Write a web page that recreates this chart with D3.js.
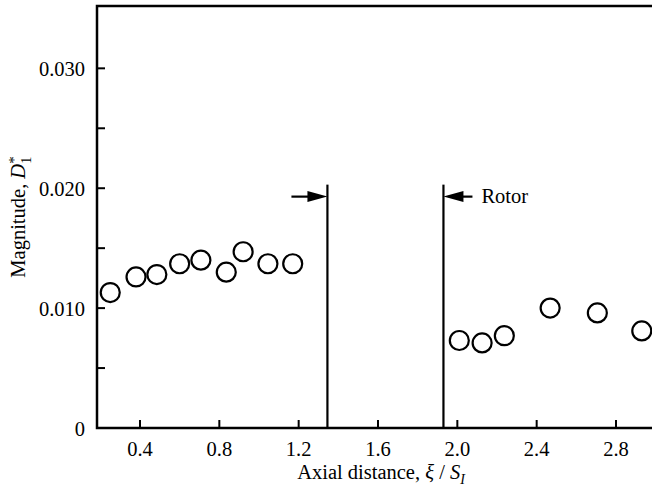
<!DOCTYPE html>
<html>
<head>
<meta charset="utf-8">
<script src="https://cdn.jsdelivr.net/npm/d3@7"></script>
<style>
  body { margin: 0; background: #fff; }
  text { font-family: "Liberation Serif", "Times New Roman", serif; fill: #000; }
</style>
</head>
<body>
<div id="viz"></div>
<script>
// data
var xUpstream = [0.25, 0.38, 0.485, 0.60, 0.707, 0.835, 0.92, 1.045, 1.17];
var yUpstream = [0.0113, 0.0126, 0.0128, 0.0137, 0.0140, 0.0130, 0.0147, 0.0137, 0.0137];
var xDownstream = [2.01, 2.125, 2.237, 2.468, 2.706, 2.93];
var yDownstream = [0.0073, 0.0071, 0.0077, 0.0100, 0.0096, 0.0081];
var rotorEdges = [1.345, 1.93];
var rotorTop = 0.0203;
var arrowLevel = 0.0193;
var xTicks = [0.4, 0.8, 1.2, 1.6, 2.0, 2.4, 2.8];
var yTicks = [0, 0.005, 0.010, 0.015, 0.020, 0.025, 0.030];
var yTickLabels = ["0", "", "0.010", "", "0.020", "", "0.030"];

var width = 652, height = 495;
var margin = {top: 6, right: 0, bottom: 67, left: 97};
var fs = 20.5;

var x = d3.scaleLinear()
  .domain([0.4, 2.8])
  .range([140, 616]);
var x0 = x.invert(margin.left), x1 = x.invert(width + 10);
x.domain([x0, x1]).range([margin.left, width + 10]);

var y = d3.scaleLinear()
  .domain([0, 0.0352])
  .range([height - margin.bottom, margin.top]);

var svg = d3.select('#viz')
  .append('svg')
  .attr('width', width)
  .attr('height', height);

// frame: left, top, bottom
svg.append("path")
  .attr("d", "M" + (width + 10) + "," + y(0.0352) + "H" + margin.left + "V" + y(0) + "H" + (width + 10))
  .attr("fill", "none")
  .attr("stroke", "#000")
  .attr("stroke-width", 2.5);

// x ticks (inward)
svg.append("g")
  .selectAll("line")
  .data(xTicks)
  .join("line")
  .attr("x1", d => x(d)).attr("x2", d => x(d))
  .attr("y1", y(0)).attr("y2", y(0) - 8)
  .attr("stroke", "#000")
  .attr("stroke-width", 2);

svg.append("g")
  .selectAll("text")
  .data(xTicks)
  .join("text")
  .attr("x", d => x(d))
  .attr("y", 456)
  .attr("text-anchor", "middle")
  .attr("font-size", fs)
  .text(d => d.toFixed(1));

// y ticks (inward)
svg.append("g")
  .selectAll("line")
  .data(yTicks)
  .join("line")
  .attr("x1", margin.left).attr("x2", margin.left + 8)
  .attr("y1", d => y(d)).attr("y2", d => y(d))
  .attr("stroke", "#000")
  .attr("stroke-width", 2);

svg.append("g")
  .selectAll("text")
  .data(yTicks)
  .join("text")
  .attr("x", 85)
  .attr("y", d => y(d) + 7.5)
  .attr("text-anchor", "end")
  .attr("font-size", fs)
  .text((d, i) => yTickLabels[i]);

// rotor edges
svg.append("g")
  .selectAll("line")
  .data(rotorEdges)
  .join("line")
  .attr("x1", d => x(d)).attr("x2", d => x(d))
  .attr("y1", y(rotorTop)).attr("y2", y(0))
  .attr("stroke", "#000")
  .attr("stroke-width", 2.2);

// arrows
var ay = y(arrowLevel);
var xa = x(rotorEdges[0]), xb = x(rotorEdges[1]);
svg.append("line")
  .attr("x1", xa - 36).attr("x2", xa - 14)
  .attr("y1", ay).attr("y2", ay)
  .attr("stroke", "#000").attr("stroke-width", 2.2);
svg.append("path")
  .attr("d", "M" + xa + "," + ay + "L" + (xa - 20) + "," + (ay - 5.5) + "L" + (xa - 20) + "," + (ay + 5.5) + "Z")
  .attr("fill", "#000");
svg.append("line")
  .attr("x1", xb + 14).attr("x2", xb + 29)
  .attr("y1", ay).attr("y2", ay)
  .attr("stroke", "#000").attr("stroke-width", 2.2);
svg.append("path")
  .attr("d", "M" + xb + "," + ay + "L" + (xb + 20) + "," + (ay - 5.5) + "L" + (xb + 20) + "," + (ay + 5.5) + "Z")
  .attr("fill", "#000");
svg.append("text")
  .attr("x", xb + 38)
  .attr("y", ay + 6.5)
  .attr("font-size", fs)
  .text("Rotor");

// data circles
var pts = xUpstream.map((d, i) => [d, yUpstream[i]])
  .concat(xDownstream.map((d, i) => [d, yDownstream[i]]));
svg.append("g")
  .selectAll("circle")
  .data(pts)
  .join("circle")
  .attr("cx", d => x(d[0]))
  .attr("cy", d => y(d[1]))
  .attr("r", 9.5)
  .attr("fill", "none")
  .attr("stroke", "#000")
  .attr("stroke-width", 2.2);

// axis labels
var xl = svg.append("text")
  .attr("x", 381)
  .attr("y", 479)
  .attr("text-anchor", "middle")
  .attr("font-size", fs);
xl.append("tspan").text("Axial distance, ");
xl.append("tspan").attr("font-style", "italic").text("ξ");
xl.append("tspan").text(" / ");
xl.append("tspan").attr("font-style", "italic").text("S");
xl.append("tspan").attr("font-style", "italic").attr("font-size", 14).attr("dy", 5).text("I");

var yl = svg.append("text")
  .attr("transform", "translate(25," + ((y(0) + y(0.0352)) / 2) + ") rotate(-90)")
  .attr("text-anchor", "middle")
  .attr("font-size", fs);
yl.append("tspan").text("Magnitude, ");
yl.append("tspan").attr("font-style", "italic").text("D");
yl.append("tspan").attr("font-size", 15).attr("dy", -6).text("*");
yl.append("tspan").attr("font-size", 14).attr("dx", -7.5).attr("dy", 12).text("1");
</script>
</body>
</html>
